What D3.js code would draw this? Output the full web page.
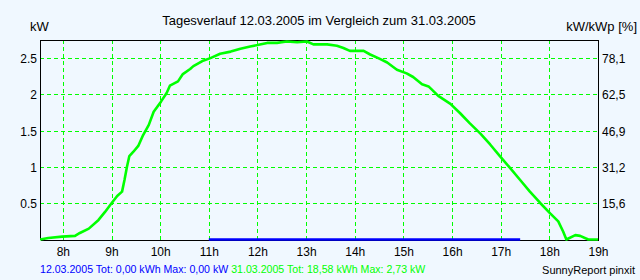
<!DOCTYPE html>
<html>
<head>
<meta charset="utf-8">
<script src="https://cdn.jsdelivr.net/npm/d3@7"></script>
<style>
  html, body { margin: 0; padding: 0; background: #f0f8ff; }
  svg { display: block; font-family: "Liberation Sans", Arial, sans-serif; }
</style>
</head>
<body>
<div id="chart"></div>
<script>
// 31.03.2005 (green) - time of day and power in kW
var times31 = ["7:32","7:42","7:59","8:15","8:21","8:32","8:44","8:52","9:00","9:07",
  "9:13","9:16","9:19","9:22","9:27","9:33","9:39","9:46","9:52","10:01",
  "10:08","10:12","10:22","10:28","10:37","10:41","10:52","11:02","11:14","11:27",
  "11:39","11:51","12:00","12:12","12:24","12:36","12:49","13:01","13:09","13:26",
  "13:38","13:46","13:54","14:11","14:19","14:31","14:40","14:52","15:04","15:12",
  "15:23","15:31","15:43","15:58","16:10","16:22","16:35","16:47","16:59","17:12",
  "17:24","17:36","17:49","18:01","18:11","18:17","18:21","18:32","18:38","18:48","19:00"];
var kw31 = [0.00,0.02,0.04,0.05,0.09,0.15,0.27,0.38,0.50,0.60,
  0.66,0.82,1.00,1.15,1.21,1.29,1.44,1.58,1.76,1.90,
  2.02,2.12,2.18,2.28,2.35,2.39,2.46,2.50,2.56,2.59,
  2.63,2.66,2.68,2.71,2.71,2.73,2.72,2.73,2.69,2.69,
  2.67,2.64,2.60,2.60,2.55,2.49,2.44,2.34,2.29,2.24,
  2.14,2.11,1.98,1.87,1.74,1.60,1.46,1.31,1.15,0.98,
  0.82,0.66,0.50,0.36,0.25,0.11,0.00,0.06,0.05,0.00,0.00];

// 12.03.2005 (blue) - nothing produced
var times12 = ["11:00","12:00","13:00","14:00","15:00","16:00","17:00","17:24"];
var kw12 = [0,0,0,0,0,0,0,0];

var hourTicks = [8,9,10,11,12,13,14,15,16,17,18,19];
var kwTicks = [0.5,1,1.5,2,2.5];
var kwTickLabels = ["0.5","1","1.5","2","2.5"];
var pctTickLabels = ["15,6","31,2","46,9","62,5","78,1"];

var titleText = "Tagesverlauf 12.03.2005 im Vergleich zum 31.03.2005";
var legend12 = "12.03.2005 Tot: 0,00 kWh Max: 0,00 kW";
var legend31 = "31.03.2005 Tot: 18,58 kWh Max: 2,73 kW";

var W = 640, H = 280;
var m = {left: 40, right: 598, top: 40, bottom: 239.5};
var green = "#00ff00", blue = "#0000ff";

function toHours(t) { var p = t.split(":"); return +p[0] + (+p[1]) / 60; }

var x = d3.scaleLinear().domain([7.53, 19]).range([m.left, m.right]);
var y = d3.scaleLinear().domain([0, 2.75]).range([m.bottom, m.top]);

var svg = d3.select("#chart").append("svg").attr("width", W).attr("height", H);
svg.append("rect").attr("width", W).attr("height", H).attr("fill", "#f0f8ff");

// grid
var grid = svg.append("g").attr("stroke", green).attr("stroke-width", 1)
  .attr("stroke-dasharray", "4,3").attr("shape-rendering", "crispEdges");
grid.selectAll("line.v").data(hourTicks).enter().append("line")
  .attr("x1", function(d){ return Math.round(x(d)) + 0.5; })
  .attr("x2", function(d){ return Math.round(x(d)) + 0.5; })
  .attr("y1", m.top).attr("y2", m.bottom);
grid.selectAll("line.h").data(kwTicks).enter().append("line")
  .attr("y1", function(d){ return Math.round(y(d)) + 0.5; })
  .attr("y2", function(d){ return Math.round(y(d)) + 0.5; })
  .attr("x1", m.left).attr("x2", m.right);

// frame
svg.append("path")
  .attr("d", "M" + (m.left + 0.5) + "," + (m.bottom + 0.5) + "V" + (m.top + 0.5) + "H" + (m.right + 0.5) + "V" + (m.bottom + 0.5) + "H" + (m.left + 0.5))
  .attr("fill", "none").attr("stroke", "#000").attr("shape-rendering", "crispEdges");

// axes (labels only)
var xAxis = d3.axisBottom(x).tickValues(hourTicks).tickSize(0).tickPadding(0)
  .tickFormat(function(d){ return d + "h"; });
var gx = svg.append("g").attr("transform", "translate(0,244)").call(xAxis);
gx.select(".domain").remove();
gx.selectAll("text").attr("font-size", 12).attr("fill", "#000").attr("dy", "0").attr("y", 12);

var yAxisL = d3.axisLeft(y).tickValues(kwTicks).tickSize(0).tickPadding(0)
  .tickFormat(function(d, i){ return kwTickLabels[i]; });
var gyl = svg.append("g").attr("transform", "translate(37,0)").call(yAxisL);
gyl.select(".domain").remove();
gyl.selectAll("text").attr("font-size", 12).attr("fill", "#000").attr("dy", "4.5");

var yAxisR = d3.axisRight(y).tickValues(kwTicks).tickSize(0).tickPadding(0)
  .tickFormat(function(d, i){ return pctTickLabels[i]; });
var gyr = svg.append("g").attr("transform", "translate(602,0)").call(yAxisR);
gyr.select(".domain").remove();
gyr.selectAll("text").attr("font-size", 12).attr("fill", "#000").attr("dy", "4.5");

// series
var line = d3.line().x(function(d){ return x(d[0]); }).y(function(d){ return y(d[1]); });
var d12 = times12.map(function(t, i){ return [toHours(t), kw12[i]]; });
var d31 = times31.map(function(t, i){ return [toHours(t), kw31[i]]; });

svg.append("path").datum(d12).attr("d", line)
  .attr("fill", "none").attr("stroke", blue).attr("stroke-width", 2.5);
svg.append("path").datum(d31).attr("d", line)
  .attr("fill", "none").attr("stroke", green).attr("stroke-width", 2.6)
  .attr("stroke-linejoin", "round");

// titles
svg.append("text").attr("x", 319).attr("y", 25).attr("text-anchor", "middle")
  .attr("font-size", 13).text(titleText);
svg.append("text").attr("x", 30).attr("y", 31).attr("font-size", 13).text("kW");
svg.append("text").attr("x", 637).attr("y", 31).attr("text-anchor", "end")
  .attr("font-size", 13).text("kW/kWp [%]");

// legend
var leg = svg.append("text").attr("x", 40).attr("y", 273).attr("font-size", 10.6);
leg.append("tspan").attr("fill", blue).text(legend12 + " ");
leg.append("tspan").attr("fill", green).text(legend31);
svg.append("text").attr("x", 635).attr("y", 274).attr("text-anchor", "end")
  .attr("font-size", 11).text("SunnyReport pinxit");
</script>
</body>
</html>
